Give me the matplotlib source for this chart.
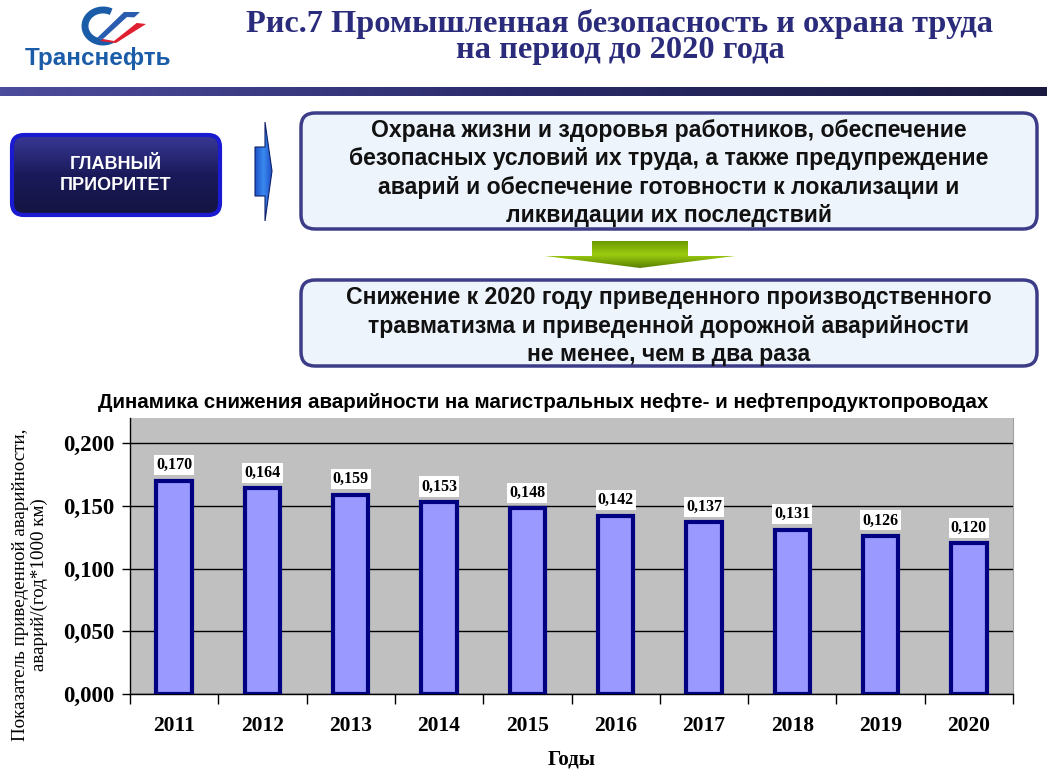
import numpy as np
import matplotlib
matplotlib.use("Agg")
import matplotlib.pyplot as plt
from matplotlib.patches import FancyBboxPatch, Polygon, Rectangle
from matplotlib.colors import LinearSegmentedColormap

years = ["2011", "2012", "2013", "2014", "2015", "2016", "2017", "2018", "2019", "2020"]
values = [0.170, 0.164, 0.159, 0.153, 0.148, 0.142, 0.137, 0.131, 0.126, 0.120]
value_labels = ["0,170", "0,164", "0,159", "0,153", "0,148", "0,142", "0,137", "0,131", "0,126", "0,120"]
y_ticks = [0.0, 0.05, 0.10, 0.15, 0.20]
y_tick_labels = ["0,000", "0,050", "0,100", "0,150", "0,200"]

header = "Рис.7 Промышленная безопасность и охрана труда\nна период до 2020 года"
priority = "ГЛАВНЫЙ\nПРИОРИТЕТ"
box1_text = ("Охрана жизни и здоровья работников, обеспечение\n"
             "безопасных условий их труда, а также предупреждение\n"
             "аварий и обеспечение готовности к локализации и\n"
             "ликвидации их последствий")
box2_text = ("Снижение к 2020 году приведенного производственного\n"
             "травматизма и приведенной дорожной аварийности\n"
             "не менее, чем в два раза")
chart_title = "Динамика снижения аварийности на магистральных нефте- и нефтепродуктопроводах"
y_label = "Показатель приведенной аварийности,\nаварий/(год*1000 км)"
x_label = "Годы"

W, H = 1047, 770
sans = ["Liberation Sans", "DejaVu Sans"]
serif = ["Liberation Serif", "DejaVu Serif"]

fig = plt.figure(figsize=(W / 100, H / 100), dpi=100)
bg = fig.add_axes([0, 0, 1, 1])
bg.set_xlim(0, W)
bg.set_ylim(H, 0)
bg.axis("off")


def gradient(ax, x0, x1, y0, y1, colors, clip=None, vertical=True, z=1):
    cmap = LinearSegmentedColormap.from_list("g", colors)
    g = np.linspace(0, 1, 256)
    arr = g[:, None] if vertical else g[None, :]
    im = ax.imshow(arr, cmap=cmap, extent=(x0, x1, y1, y0), aspect="auto",
                   zorder=z, interpolation="bilinear")
    if clip is not None:
        im.set_clip_path(clip)
    ax.set_xlim(0, W)
    ax.set_ylim(H, 0)
    return im


# logo
t = np.linspace(0.25 * np.pi, 1.65 * np.pi, 60)
bg.plot(103 + 18 * np.cos(t), 26 + 16 * np.sin(t), color="#1b5ca8", lw=5, zorder=3,
        solid_capstyle="butt")
bg.add_patch(Polygon([[100, 41], [128, 22], [146, 24], [116, 43]], closed=True,
                     facecolor="#e02030", edgecolor="none", zorder=4))
bg.add_patch(Polygon([[97, 38], [124, 12], [140, 12], [110, 40]], closed=True,
                     facecolor="#2a5cb0", edgecolor="none", zorder=4))
bg.add_patch(Polygon([[103, 39], [127, 17], [143, 18], [114, 41]], closed=True,
                     facecolor="white", edgecolor="none", zorder=5))
bg.text(98, 58, "Транснефть", ha="center", va="center", fontsize=17.5, fontweight="bold",
        color="#1b5ca8", family=sans)

# header
bg.text(620, 37, header, ha="center", va="center", fontsize=23.3, fontweight="bold",
        color="#2b2b7c", family=serif, linespacing=0.88)

# divider bar
bar_rect = Rectangle((0, 87), W, 9, facecolor="none", edgecolor="none")
bg.add_patch(bar_rect)
gradient(bg, 0, W, 87, 96, ["#4c4c9c", "#2a2a6a", "#1a1a40"], clip=bar_rect, vertical=False)

# priority box
pbox = FancyBboxPatch((12, 135), 208, 80, boxstyle="round,pad=0,rounding_size=12",
                      facecolor="none", edgecolor="#1a1ad0", lw=3, zorder=3)
bg.add_patch(pbox)
gradient(bg, 10, 222, 133, 217, ["#3a3a9a", "#1a1a5a", "#141440"], clip=pbox, z=2)
bg.text(116, 175, priority, ha="center", va="center", fontsize=13, fontweight="bold",
        color="white", family=sans, linespacing=1.3, zorder=4)

# blue arrow
arrow = Polygon([[255, 147], [265, 147], [265, 122], [272, 171], [265, 221], [265, 196], [255, 196]],
                closed=True, facecolor="none", edgecolor="#10206a", lw=0.8, zorder=3)
bg.add_patch(arrow)
gradient(bg, 255, 272, 122, 221, ["#1e50c8", "#3a8af0", "#1e50c8"], clip=arrow, vertical=False, z=2)

# text boxes
for (y0, y1, txt, yc) in [(113, 229, box1_text, 173), (280, 366, box2_text, 326)]:
    b = FancyBboxPatch((301, y0), 736, y1 - y0, boxstyle="round,pad=0,rounding_size=14",
                       facecolor="#eef4fc", edgecolor="#3c3c88", lw=2.5, zorder=2)
    bg.add_patch(b)
    bg.text(669, yc, txt, ha="center", va="center", fontsize=16.6, fontweight="bold",
            color="#111111", family=sans, linespacing=1.3, zorder=3)

# green arrow
garrow = Polygon([[592, 241], [688, 241], [688, 256], [735, 256], [640, 268], [545, 256], [592, 256]],
                 closed=True, facecolor="none", edgecolor="none", zorder=3)
bg.add_patch(garrow)
gradient(bg, 545, 735, 241, 268, ["#6a9a00", "#9ccc10", "#5a8000"], clip=garrow, z=2)

# chart title
bg.text(543, 402, chart_title, ha="center", va="center", fontsize=14.8, fontweight="bold",
        color="black", family=sans)

# chart
ax = fig.add_axes([130 / W, (H - 694) / H, 883 / W, (694 - 418) / H])
ax.set_facecolor("#c0c0c0")
x = np.arange(len(years))
ax.bar(x, values, width=0.40, color="#9999ff", edgecolor="#000080", linewidth=3, zorder=3)
for xi, v, lab in zip(x, values, value_labels):
    ax.text(xi, v + 0.006, lab, ha="center", va="bottom", fontsize=11.5, fontweight="bold",
            family=serif, zorder=4,
            bbox=dict(facecolor="white", edgecolor="none", pad=1.5))
ax.set_xlim(-0.5, len(years) - 0.5)
ax.set_ylim(0, 0.22)
ax.set_yticks(y_ticks)
ax.set_yticklabels(y_tick_labels, fontsize=16.5, fontweight="bold", family=serif)
ax.set_xticks(x)
ax.set_xticklabels(years, fontsize=15.5, fontweight="bold", family=serif)
ax.set_xticks(np.arange(-0.5, len(years), 1.0), minor=True)
ax.tick_params(axis="x", which="major", length=0, pad=16)
ax.tick_params(axis="x", which="minor", length=7, width=1, direction="out")
ax.tick_params(axis="y", length=6, width=1, direction="out", pad=5)
ax.grid(axis="y", color="black", linewidth=1, zorder=1)
ax.set_axisbelow(True)
ax.spines["top"].set_visible(False)
ax.spines["right"].set_color("#a0a0a0")
ax.spines["left"].set_linewidth(1)
ax.spines["bottom"].set_linewidth(1)

fig.text(12 / W, 1 - 585 / H, y_label, rotation=90, ha="left", va="center", fontsize=13.7,
         family=serif, multialignment="center", linespacing=1.1)
fig.text(572 / W, 1 - 760 / H, x_label, ha="center", va="center", fontsize=15,
         fontweight="bold", family=serif)

fig.savefig("out.png", dpi=100)
